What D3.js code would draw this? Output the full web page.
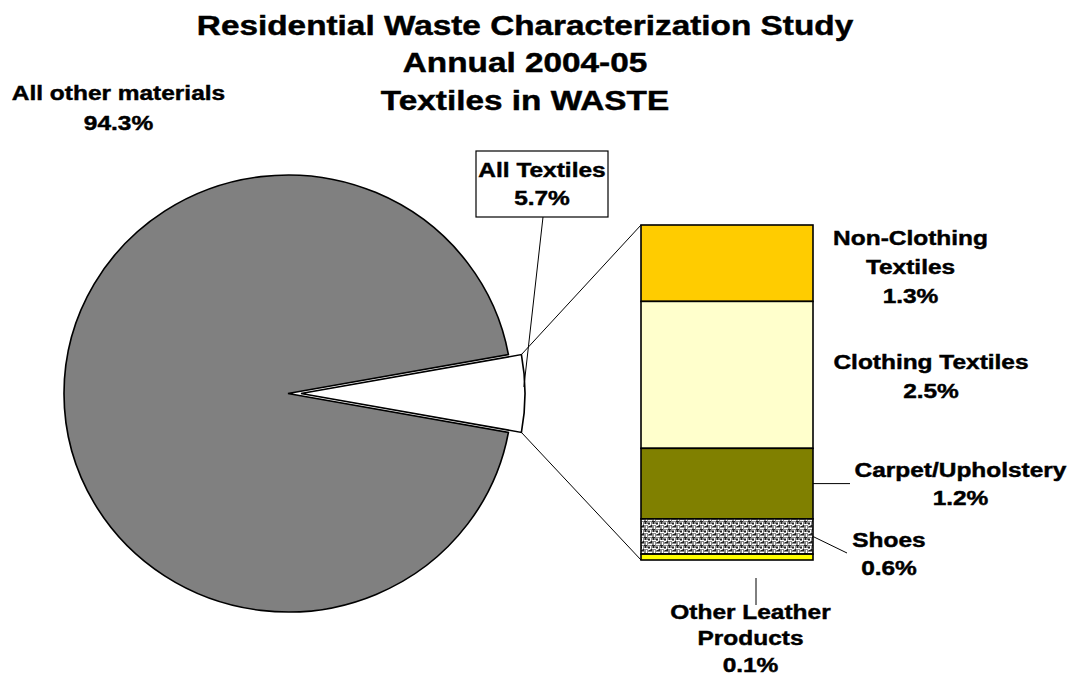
<!DOCTYPE html>
<html><head><meta charset="utf-8">
<script src="https://cdn.jsdelivr.net/npm/d3@7"></script>
<style>
html,body{margin:0;padding:0;background:#fff;}
text{font-family:"Liberation Sans",Arial,sans-serif;font-weight:bold;fill:#000;stroke:#000;stroke-width:0.45px;}
</style></head>
<body>
<svg id="chart" width="1075" height="677"></svg>
<script>
// ---- data ----
const titleLines = ["Residential Waste Characterization Study", "Annual 2004-05", "Textiles in WASTE"];
const pieLabels = ["All Textiles", "All other materials"];
const pieValues = [5.7, 94.3];
const barCategories = ["Non-Clothing Textiles", "Clothing Textiles", "Carpet/Upholstery", "Shoes", "Other Leather Products"];
const barValues = [1.3, 2.5, 1.2, 0.6, 0.1];
const barColors = ["#FFCC00", "#FFFFCC", "#808000", "url(#weave)", "#FFFF00"];

const svg = d3.select("#chart");
const defs = svg.append("defs");
const pat = defs.append("pattern").attr("id","weave").attr("patternUnits","userSpaceOnUse")
  .attr("width",8).attr("height",8);
pat.append("rect").attr("width",8).attr("height",8).attr("fill","#8a8a8a");
[[0,0,4,1],[4,4,4,1],[2,2,1,3],[6,6,1,3],[6,0,1,2],[0,5,2,1]].forEach(r=>
  pat.append("rect").attr("x",r[0]).attr("y",r[1]).attr("width",r[2]).attr("height",r[3]).attr("fill","#fff"));
[[4,1,3,1],[0,3,2,1],[1,6,3,1],[5,2,1,2],[3,5,1,2]].forEach(r=>
  pat.append("rect").attr("x",r[0]).attr("y",r[1]).attr("width",r[2]).attr("height",r[3]).attr("fill","#222"));

const SX = 1.165;
function label(x, y, lines, size, gap, sx) {
  const g = svg.append("g").attr("transform", `translate(${x},${y}) scale(${sx||SX},1)`);
  lines.forEach((t,i)=> g.append("text").attr("x",0).attr("y",i*gap)
    .attr("text-anchor","middle").attr("font-size",size).text(t));
}

// title
label(525, 35, titleLines, 27, 37.5, 1.235);

// ---- pie ----
const cx = 288, cy = 393.5, ry = 218.5, rx = 224, explode = 13;
const theta = pieValues[0] / d3.sum(pieValues) * 2 * Math.PI;
const start = Math.PI/2 - theta/2;
const pie = d3.pie().sort(null).startAngle(start).endAngle(start + 2*Math.PI);
const arcs = pie(pieValues);
const arc = d3.arc().innerRadius(0).outerRadius(ry);

// gray slice
svg.append("g").attr("transform", `translate(${cx},${cy}) scale(${rx/ry},1)`)
  .append("path").attr("d", arc(arcs[1])).attr("fill","#808080")
  .attr("stroke","#000").attr("stroke-width",1.6);
// white exploded slice
svg.append("g").attr("transform", `translate(${cx+explode},${cy}) scale(${rx/ry},1)`)
  .append("path").attr("d", arc(arcs[0])).attr("fill","#fff")
  .attr("stroke","#000").attr("stroke-width",1.6);

function slicePt(a){ return [cx + explode + rx*Math.sin(a), cy - ry*Math.cos(a)]; }
const pTop = slicePt(arcs[0].startAngle), pBot = slicePt(arcs[0].endAngle);

// ---- bar ----
const barX = 641, barW = 172;
const y = d3.scaleLinear().domain([0, d3.sum(barValues)]).range([225, 560]);
let cum = 0;
const segs = barValues.map((v,i)=>{ const s = {cat:barCategories[i], v, y0:y(cum), y1:y(cum+v), c:barColors[i]}; cum += v; return s; });

// connector lines
svg.append("line").attr("x1",pTop[0]).attr("y1",pTop[1]).attr("x2",barX).attr("y2",y(0)).attr("stroke","#000").attr("stroke-width",1);
svg.append("line").attr("x1",pBot[0]).attr("y1",pBot[1]).attr("x2",barX).attr("y2",y(d3.sum(barValues))).attr("stroke","#000").attr("stroke-width",1);

svg.append("g").selectAll("rect").data(segs).join("rect")
  .attr("x",barX).attr("width",barW)
  .attr("y",d=>d.y0).attr("height",d=>d.y1-d.y0)
  .attr("fill",d=>d.c).attr("stroke","#000").attr("stroke-width",1.6);

// ---- labels ----
label(118.5, 100, [pieLabels[1], pieValues[1].toFixed(1)+"%"], 21, 30);

// All Textiles box
svg.append("rect").attr("x",476).attr("y",151).attr("width",132).attr("height",66)
  .attr("fill","#fff").attr("stroke","#000").attr("stroke-width",1.2);
const pLead = slicePt(Math.PI/2 - 0.03);
svg.append("line").attr("x1",543).attr("y1",217).attr("x2",pLead[0]-1).attr("y2",pLead[1]).attr("stroke","#000").attr("stroke-width",1);
label(542, 177, [pieLabels[0], pieValues[0].toFixed(1)+"%"], 21, 28.5);

const pct = v => v.toFixed(1)+"%";
label(910.5, 245, ["Non-Clothing", "Textiles", pct(barValues[0])], 21, 29);
label(931, 369, [barCategories[1], pct(barValues[1])], 21, 29);

// carpet leader
const cMid = (segs[2].y0+segs[2].y1)/2;
svg.append("line").attr("x1",barX+barW).attr("y1",cMid).attr("x2",850).attr("y2",cMid).attr("stroke","#000").attr("stroke-width",1);
label(960.5, 477, [barCategories[2], pct(barValues[2])], 21, 28);

// shoes leader
const sMid = (segs[3].y0+segs[3].y1)/2;
svg.append("line").attr("x1",barX+barW).attr("y1",sMid).attr("x2",847).attr("y2",553).attr("stroke","#000").attr("stroke-width",1);
label(889, 547, [barCategories[3], pct(barValues[3])], 21, 28);

// other leather leader
svg.append("line").attr("x1",756).attr("y1",578).attr("x2",756).attr("y2",605).attr("stroke","#000").attr("stroke-width",1);
label(750.5, 619, ["Other Leather", "Products", pct(barValues[4])], 21, 26.5);
</script>
</body></html>
